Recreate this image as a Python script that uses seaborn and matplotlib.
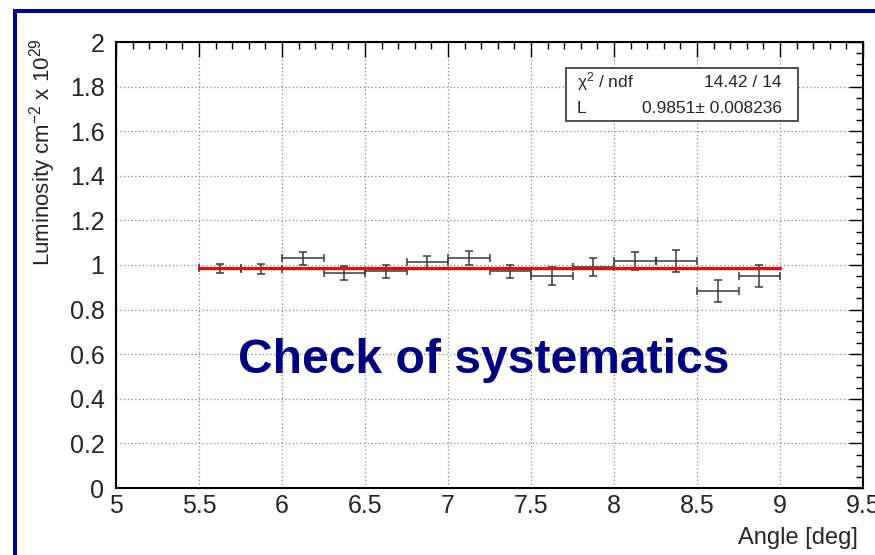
import matplotlib
matplotlib.use("Agg")
import matplotlib.pyplot as plt
import seaborn as sns
import numpy as np
import pandas as pd
from matplotlib.ticker import MultipleLocator
from matplotlib.patches import Rectangle

# ---- data ----
angle = [5.625, 5.875, 6.125, 6.375, 6.625, 6.875, 7.125, 7.375, 7.625, 7.875, 8.125, 8.375, 8.625, 8.875]
lumi = [0.985, 0.982, 1.030, 0.963, 0.972, 1.012, 1.031, 0.972, 0.951, 0.992, 1.019, 1.019, 0.882, 0.951]
lumi_err = [0.021, 0.021, 0.029, 0.031, 0.030, 0.030, 0.030, 0.030, 0.042, 0.040, 0.040, 0.049, 0.050, 0.050]
bin_half_width = [0.125] * 14
fit_x = [5.5, 9.0]
fit_value = 0.9851
stats_labels = ["χ$^2$ / ndf", "L"]
stats_values = ["14.42 / 14", "0.9851± 0.008236"]
title_text = "Check of systematics"
x_ticklabels = ["5", "5.5", "6", "6.5", "7", "7.5", "8", "8.5", "9", "9.5"]
y_ticklabels = ["0", "0.2", "0.4", "0.6", "0.8", "1", "1.2", "1.4", "1.6", "1.8", "2"]

sns.set_style("white")
plt.rcParams['font.family'] = ['Liberation Sans', 'DejaVu Sans']
plt.rcParams['mathtext.fontset'] = 'custom'
plt.rcParams['mathtext.rm'] = 'Liberation Sans'
plt.rcParams['mathtext.it'] = 'Liberation Sans'
plt.rcParams['mathtext.default'] = 'regular'

W, H = 875, 555
fig = plt.figure(figsize=(W / 100, H / 100), dpi=100)
ax = fig.add_axes([116/W, 1 - 488/H, (863-116)/W, (488-42)/H])

# navy frame
fig.patches.append(Rectangle((14.7/W, -0.1), 1.2, 1 - 11.3/H + 0.1, transform=fig.transFigure,
                             fill=False, edgecolor='#000090', linewidth=2.9, zorder=0))

ax.errorbar(angle, lumi, yerr=lumi_err, xerr=bin_half_width, fmt='none',
            ecolor='#3a3a3a', elinewidth=1.1, capsize=2.8, capthick=1.1, zorder=3)

fit_df = pd.DataFrame({"x": fit_x, "y": [fit_value] * len(fit_x)})
sns.lineplot(data=fit_df, x="x", y="y", ax=ax, color='#ff0000', linewidth=2.4, zorder=4)

ax.set_xlim(5, 9.5)
ax.set_ylim(0, 2)
ax.xaxis.set_minor_locator(MultipleLocator(0.1))
ax.yaxis.set_minor_locator(MultipleLocator(0.05))
ax.set_xticks(np.arange(5, 9.51, 0.5))
ax.set_xticklabels(x_ticklabels)
ax.set_yticks(np.arange(0, 2.01, 0.2))
ax.set_yticklabels(y_ticklabels)
ax.tick_params(which='both', direction='in', top=True, right=True, color='black')
ax.tick_params(which='major', width=1, labelsize=18)
ax.tick_params(axis='y', which='major', length=10, pad=8.3)
ax.tick_params(axis='x', which='major', length=11, pad=4)
ax.tick_params(which='minor', length=5, width=1)
ax.grid(True, which='major', linestyle=(0, (1, 2)), color='#888888', linewidth=0.9)
for s in ax.spines.values():
    s.set_color('black')
    s.set_linewidth(1.5)
ax.set_xlabel("")
ax.set_ylabel("")

fig.text(858/W, 1 - 544/H, "Angle [deg]", ha='right', va='baseline', fontsize=17)
fig.text(43/W, 1 - 38/H, "Luminosity cm$^{-2}$ x 10$^{29}$", rotation=90,
         ha='center', va='top', fontsize=16)

ax.text((483.5-116)/747, (488-373)/446, title_text, transform=ax.transAxes, ha='center',
        va='baseline', fontsize=34.6, fontweight='bold', color='#000080')

# stats box
bx0, by0 = (566-116)/747, (488-121)/446
bw, bh = (798-566)/747, (121-68)/446
ax.add_patch(Rectangle((bx0, by0), bw, bh, transform=ax.transAxes, facecolor='white',
                       edgecolor='#333333', linewidth=1.2, zorder=5))
for lab, val, base in zip(stats_labels, stats_values, [87, 113]):
    yy = (488 - base) / 446
    ax.text((577-116)/747, yy, lab, transform=ax.transAxes, ha='left', va='baseline',
            fontsize=12.5, zorder=6)
    ax.text((782-116)/747, yy, val, transform=ax.transAxes, ha='right', va='baseline',
            fontsize=12.5, zorder=6)

fig.savefig("out.png", dpi=100)
